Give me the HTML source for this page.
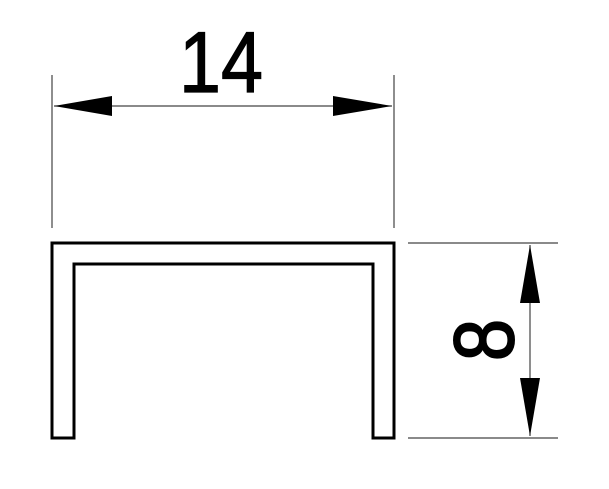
<!DOCTYPE html>
<html><head><style>html,body{margin:0;padding:0;background:#fff;}svg{display:block}</style></head>
<body>
<svg width="609" height="489" viewBox="0 0 609 489" xmlns="http://www.w3.org/2000/svg">
<rect width="609" height="489" fill="#fff"/>
<path d="M52,438 L52,243 L394,243 L394,438 L373,438 L373,264 L74,264 L74,438 Z" fill="none" stroke="#000" stroke-width="3"/>
<g stroke="#444" stroke-width="1.2">
<line x1="52" y1="75" x2="52" y2="228"/>
<line x1="394" y1="75" x2="394" y2="228"/>
<line x1="54" y1="106" x2="392" y2="106"/>
<line x1="408" y1="243" x2="558" y2="243"/>
<line x1="408" y1="438" x2="558" y2="438"/>
<line x1="530" y1="245" x2="530" y2="436"/>
</g>
<polygon points="54,106 112,96 112,116" fill="#000"/>
<polygon points="392,106 333,96 333,116" fill="#000"/>
<polygon points="530,245 520,303 540,303" fill="#000"/>
<polygon points="530,436 520,378 540,378" fill="#000"/>
<text x="221" y="92" font-family="'Liberation Sans', sans-serif" font-size="86" text-anchor="middle" textLength="84" lengthAdjust="spacingAndGlyphs" stroke="#000" stroke-width="1.2">14</text>
<text x="0" y="0" font-family="'Liberation Sans', sans-serif" font-size="84" text-anchor="middle" transform="translate(513,340) rotate(-90)" textLength="42" lengthAdjust="spacingAndGlyphs" stroke="#000" stroke-width="2">8</text>
</svg>
</body></html>
